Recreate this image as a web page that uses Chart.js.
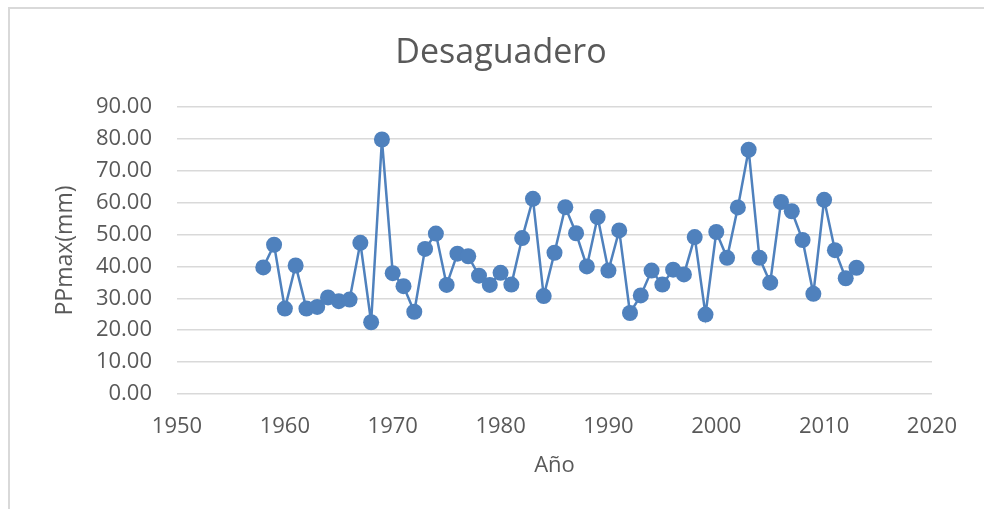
<!DOCTYPE html>
<html>
<head>
<meta charset="utf-8">
<script src="https://cdn.jsdelivr.net/npm/chart.js@4.4.1/dist/chart.umd.min.js"></script>
<style>
    html, body { margin: 0; padding: 0; background: #fff; overflow: hidden; }
    #frame {
        position: absolute; left: 8px; top: 7px;
        width: 1000px; height: 520px;
        border: 2px solid #d9d9d9;
    }
    #wrap { position: absolute; left: 0; top: 0; width: 984px; height: 509px; }
</style>
</head>
<body>
<div id="frame"></div>
<div id="wrap"><canvas id="chartCanvas" width="984" height="509"></canvas></div>
<script>
// Desaguadero - PPmax per year

const years = [
    1958, 1959, 1960, 1961, 1962, 1963, 1964, 1965, 1966, 1967,
    1968, 1969, 1970, 1971, 1972, 1973, 1974, 1975, 1976, 1977,
    1978, 1979, 1980, 1981, 1982, 1983, 1984, 1985, 1986, 1987,
    1988, 1989, 1990, 1991, 1992, 1993, 1994, 1995, 1996, 1997,
    1998, 1999, 2000, 2001, 2002, 2003, 2004, 2005, 2006, 2007,
    2008, 2009, 2010, 2011, 2012, 2013
];

const ppmax = [
    39.7, 46.8, 26.8, 40.3, 26.8, 27.3, 30.3, 29.1, 29.6, 47.4,
    22.5, 79.8, 37.9, 33.8, 25.8, 45.5, 50.3, 34.2, 44.0, 43.2,
    37.1, 34.2, 38.0, 34.3, 48.9, 61.2, 30.7, 44.3, 58.6, 50.4,
    40.0, 55.5, 38.7, 51.3, 25.4, 30.9, 38.7, 34.3, 39.0, 37.5,
    49.2, 24.9, 50.8, 42.7, 58.5, 76.6, 42.7, 34.9, 60.2, 57.3,
    48.3, 31.4, 60.9, 45.1, 36.3, 39.6
];

const chartTitle = "Desaguadero";
const xTitle = "Año";
const yTitle = "PPmax(mm)";

const textColor = "#595959";
const lineColor = "#4F81BD";
const fontFamily = "'Open Sans', sans-serif";

// title centred on the chart frame, not on the plot area
const frameTitle = {
    id: "frameTitle",
    afterDraw(chart) {
        const ctx = chart.ctx;
        ctx.save();
        ctx.font = "34px " + fontFamily;
        ctx.fillStyle = textColor;
        ctx.textAlign = "center";
        ctx.textBaseline = "alphabetic";
        ctx.fillText(chartTitle, 501, 63);
        ctx.restore();
    }
};

const ctx = document.getElementById("chartCanvas").getContext("2d");

new Chart(ctx, {
    type: "line",
    data: {
        datasets: [{
            label: yTitle,
            data: years.map((y, i) => ({ x: y, y: ppmax[i] })),
            borderColor: lineColor,
            backgroundColor: lineColor,
            borderWidth: 2.5,
            pointRadius: 8,
            pointHoverRadius: 8,
            pointBorderWidth: 0,
            tension: 0
        }]
    },
    options: {
        responsive: false,
        animation: false,
        layout: {
            padding: { top: 107, left: 0, right: 52, bottom: 0 }
        },
        plugins: {
            legend: { display: false },
            title: { display: false },
            tooltip: { enabled: false }
        },
        scales: {
            x: {
                type: "linear",
                min: 1950,
                max: 2020,
                afterFit: s => { s.height = 115; },
                grid: { display: false, drawTicks: false },
                border: { display: false },
                ticks: {
                    stepSize: 10,
                    padding: 20,
                    color: textColor,
                    font: { family: fontFamily, size: 22 },
                    callback: v => String(v)
                },
                title: {
                    display: true,
                    text: xTitle,
                    color: textColor,
                    font: { family: fontFamily, size: 22 },
                    padding: { top: 0, bottom: 30 }
                }
            },
            y: {
                min: 0,
                max: 90,
                afterFit: s => { s.width = 177; },
                grid: { color: "#d9d9d9", lineWidth: 1.5, drawTicks: false },
                border: { display: false },
                ticks: {
                    stepSize: 10,
                    padding: 25,
                    color: textColor,
                    font: { family: fontFamily, size: 22 },
                    callback: v => Number(v).toFixed(2)
                },
                title: {
                    display: true,
                    text: yTitle,
                    color: textColor,
                    font: { family: fontFamily, size: 23 },
                    padding: { top: 52, bottom: 0 }
                }
            }
        }
    },
    plugins: [frameTitle]
});
</script>
</body>
</html>
